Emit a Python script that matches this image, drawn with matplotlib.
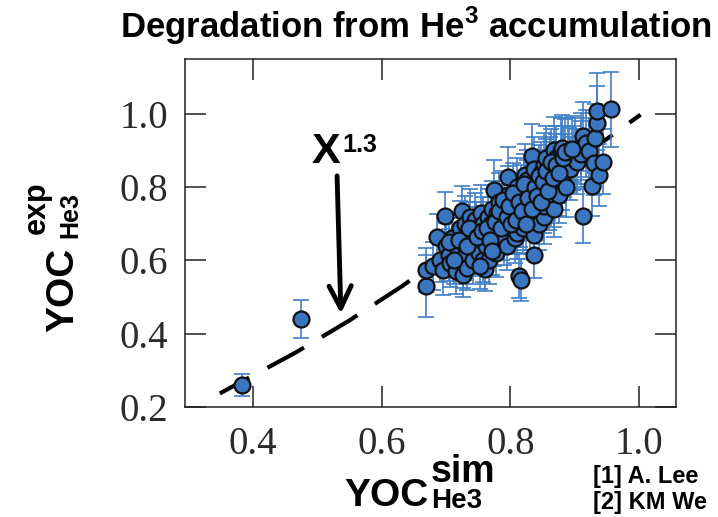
import matplotlib
matplotlib.use('Agg')
import matplotlib.pyplot as plt
from matplotlib import font_manager

# ---------------- data ----------------
yoc_sim = [0.384, 0.475,
           0.669, 0.669, 0.680, 0.686, 0.690, 0.695, 0.699, 0.700, 0.705, 0.707,
           0.710, 0.715, 0.718, 0.722, 0.725, 0.725, 0.727, 0.727, 0.728, 0.730,
           0.733, 0.736, 0.738, 0.740, 0.742, 0.742, 0.742, 0.745, 0.747, 0.750,
           0.752, 0.755, 0.757, 0.758, 0.760, 0.761, 0.762, 0.765, 0.767, 0.770,
           0.772, 0.774, 0.774, 0.775, 0.777, 0.779, 0.780, 0.782, 0.785, 0.787,
           0.790, 0.790, 0.792, 0.795, 0.797, 0.797, 0.800, 0.802, 0.805, 0.807,
           0.810, 0.810, 0.810, 0.812, 0.813, 0.816, 0.815, 0.817, 0.820, 0.822,
           0.823, 0.825, 0.826, 0.827, 0.830, 0.832, 0.834, 0.835, 0.836, 0.836,
           0.837, 0.840, 0.842, 0.845, 0.847, 0.850, 0.852, 0.852, 0.852, 0.852,
           0.855, 0.857, 0.860, 0.862, 0.865, 0.867, 0.867, 0.867, 0.870, 0.870,
           0.872, 0.875, 0.875, 0.878, 0.880, 0.880, 0.883, 0.886, 0.890, 0.891,
           0.893, 0.897, 0.900, 0.904, 0.909, 0.910, 0.912, 0.912, 0.918, 0.922,
           0.927, 0.930, 0.932, 0.935, 0.935, 0.938, 0.943, 0.956,
           0.705, 0.712, 0.720, 0.732, 0.735, 0.748, 0.753, 0.756, 0.764, 0.768,
           0.771, 0.776, 0.783, 0.786, 0.789, 0.794, 0.798, 0.801, 0.804, 0.809,
           0.814, 0.818, 0.821, 0.824, 0.828, 0.833, 0.838, 0.841, 0.844, 0.848,
           0.851, 0.856, 0.859, 0.863, 0.866, 0.871, 0.876, 0.881, 0.885, 0.895]
yoc_exp = [0.261, 0.439,
           0.530, 0.574, 0.585, 0.663, 0.600, 0.575, 0.722, 0.640, 0.615, 0.592,
           0.660, 0.570, 0.630, 0.690, 0.734, 0.650, 0.592, 0.560, 0.610, 0.700,
           0.580, 0.665, 0.720, 0.640, 0.676, 0.629, 0.600, 0.710, 0.690, 0.650,
           0.620, 0.730, 0.700, 0.601, 0.670, 0.578, 0.640, 0.720, 0.600, 0.700,
           0.740, 0.674, 0.793, 0.650, 0.620, 0.729, 0.690, 0.760, 0.710, 0.670,
           0.656, 0.740, 0.700, 0.640, 0.829, 0.780, 0.720, 0.690, 0.760, 0.660,
           0.729, 0.674, 0.800, 0.740, 0.558, 0.547, 0.710, 0.780, 0.690, 0.760,
           0.834, 0.820, 0.793, 0.730, 0.700, 0.790, 0.884, 0.760, 0.670, 0.615,
           0.850, 0.730, 0.810, 0.700, 0.840, 0.790, 0.861, 0.775, 0.720, 0.750,
           0.880, 0.820, 0.760, 0.850, 0.800, 0.770, 0.902, 0.740, 0.820, 0.880,
           0.840, 0.802, 0.780, 0.900, 0.907, 0.820, 0.860, 0.800, 0.900, 0.875,
           0.850, 0.880, 0.900, 0.870, 0.911, 0.890, 0.939, 0.722, 0.920, 0.900,
           0.802, 0.866, 0.934, 0.975, 1.007, 0.834, 0.870, 1.013,
           0.650, 0.600, 0.655, 0.640, 0.690, 0.665, 0.585, 0.680, 0.690, 0.655,
           0.625, 0.705, 0.735, 0.690, 0.765, 0.720, 0.750, 0.700, 0.785, 0.710,
           0.760, 0.735, 0.810, 0.700, 0.770, 0.740, 0.800, 0.775, 0.830, 0.760,
           0.815, 0.845, 0.790, 0.870, 0.825, 0.860, 0.840, 0.880, 0.895, 0.905]
yoc_err = [0.030, 0.052,
           0.084, 0.060, 0.065, 0.063, 0.060, 0.070, 0.066, 0.062, 0.070, 0.065,
           0.068, 0.062, 0.070, 0.072, 0.070, 0.066, 0.068, 0.060, 0.064, 0.075,
           0.060, 0.070, 0.074, 0.062, 0.070, 0.066, 0.064, 0.073, 0.070, 0.068,
           0.062, 0.076, 0.072, 0.060, 0.070, 0.062, 0.066, 0.075, 0.064, 0.072,
           0.078, 0.070, 0.080, 0.066, 0.064, 0.074, 0.070, 0.078, 0.072, 0.068,
           0.068, 0.076, 0.072, 0.066, 0.082, 0.078, 0.074, 0.070, 0.078, 0.068,
           0.076, 0.070, 0.080, 0.076, 0.060, 0.058, 0.072, 0.080, 0.070, 0.078,
           0.084, 0.082, 0.080, 0.074, 0.072, 0.080, 0.088, 0.078, 0.070, 0.062,
           0.086, 0.074, 0.082, 0.072, 0.084, 0.080, 0.086, 0.078, 0.074, 0.076,
           0.088, 0.082, 0.078, 0.086, 0.080, 0.078, 0.090, 0.076, 0.082, 0.088,
           0.084, 0.080, 0.078, 0.090, 0.090, 0.082, 0.086, 0.080, 0.090, 0.088,
           0.086, 0.088, 0.090, 0.088, 0.092, 0.090, 0.094, 0.074, 0.092, 0.090,
           0.080, 0.088, 0.094, 0.100, 0.105, 0.084, 0.088, 0.102,
           0.066, 0.064, 0.068, 0.066, 0.070, 0.068, 0.062, 0.070, 0.070, 0.068,
           0.064, 0.072, 0.074, 0.070, 0.078, 0.074, 0.076, 0.072, 0.080, 0.072,
           0.078, 0.074, 0.082, 0.072, 0.078, 0.076, 0.080, 0.078, 0.084, 0.078,
           0.082, 0.086, 0.080, 0.088, 0.082, 0.086, 0.084, 0.088, 0.090, 0.090]

curve_x = [0.349, 0.466, 0.549, 0.632, 1.002]
curve_y = [0.237, 0.348, 0.435, 0.530, 0.998]

x_ticks = [0.4, 0.6, 0.8, 1.0]
y_ticks = [0.2, 0.4, 0.6, 0.8, 1.0]

# ---------------- fonts ----------------
names = {f.name for f in font_manager.fontManager.ttflist}
SANS = 'Liberation Sans'
NARROW = 'Liberation Sans Narrow' if 'Liberation Sans Narrow' in names else SANS
SERIF = 'Liberation Serif'
plt.rcParams['mathtext.fontset'] = 'custom'
plt.rcParams['mathtext.bf'] = 'Liberation Sans:bold'
plt.rcParams['mathtext.rm'] = 'Liberation Sans'

W, H = 718, 517
def fx(px):
    return px / W
def fy(py):
    return 1 - py / H

fig = plt.figure(figsize=(W / 100, H / 100), dpi=100)
fig.patch.set_facecolor('white')
ax = fig.add_axes([fx(185), fy(407), (676 - 185) / W, (407 - 59) / H])

ax.plot(curve_x, curve_y, color='black', lw=3.0, linestyle=(2, (10, 5)),
        dash_capstyle='butt', zorder=2)
ax.errorbar(yoc_sim, yoc_exp, yerr=yoc_err, fmt='none', ecolor='#3f7fc7',
            elinewidth=1.2, capsize=6, capthick=1.2, zorder=2.5)
ax.plot(yoc_sim, yoc_exp, linestyle='none', marker='o', ms=11.5,
        mfc='#3a76c0', mec='#111111', mew=1.6, zorder=3)

ax.set_xlim(0.295, 1.057)
ax.set_ylim(0.2, 1.15)
ax.set_xticks(x_ticks)
ax.set_yticks(y_ticks)
ax.set_xticklabels([f'{v:.1f}' for v in x_ticks])
ax.set_yticklabels([f'{v:.1f}' for v in y_ticks])
ax.tick_params(direction='in', length=15, width=1.1, color='#222222',
               top=True, right=True, labelsize=28, labelcolor='#2a2a2a')
ax.tick_params(axis='x', pad=14)
ax.tick_params(axis='y', pad=12)
for lab in ax.get_xticklabels() + ax.get_yticklabels():
    lab.set_family(SERIF)
for sp in ax.spines.values():
    sp.set_linewidth(1.1)
    sp.set_color('#222222')

# annotation X^1.3 with arrow
ax.text(0.492, 0.867, 'X', fontsize=31, weight='bold', family=SANS,
        ha='left', va='baseline')
ax.text(0.540, 0.897, '1.3', fontsize=18, weight='bold', family=SANS,
        ha='left', va='baseline')
ax.annotate('', xy=(0.537, 0.455), xytext=(0.531, 0.831),
            arrowprops=dict(arrowstyle='->,head_length=0.8,head_width=0.4',
                            lw=3.5, color='black', mutation_scale=20,
                            shrinkA=0, shrinkB=0))

# title
fig.text(fx(416), fy(38), r'Degradation from He$^{\mathbf{3}}$ accumulation',
         ha='center', va='baseline', fontsize=25, weight='bold', family=SANS)

# x label
fig.text(fx(429), fy(506), 'YOC', ha='right', va='baseline', fontsize=28,
         weight='bold', family=NARROW)
fig.text(fx(431), fy(482), 'sim', ha='left', va='baseline', fontsize=27,
         weight='bold', family=SANS)
fig.text(fx(431), fy(508), 'He3', ha='left', va='baseline', fontsize=20,
         weight='bold', family=SANS)

# y label (rotated)
fig.text(fx(73), fy(248), 'YOC', ha='right', va='baseline', fontsize=28,
         weight='bold', family=NARROW, rotation=90, rotation_mode='anchor')
fig.text(fx(45), fy(234), 'exp', ha='left', va='baseline', fontsize=22,
         weight='bold', family=SANS, rotation=90, rotation_mode='anchor')
fig.text(fx(77), fy(238), 'He3', ha='left', va='baseline', fontsize=18,
         weight='bold', family=SANS, rotation=90, rotation_mode='anchor')

# references (at the slide edge)
fig.text(fx(593), fy(483), '[1] A. Lee', ha='left', va='baseline', fontsize=17,
         weight='bold', family=SANS)
fig.text(fx(593), fy(509), '[2] KM We', ha='left', va='baseline', fontsize=17,
         weight='bold', family=SANS)

fig.savefig('out.png', dpi=100)
